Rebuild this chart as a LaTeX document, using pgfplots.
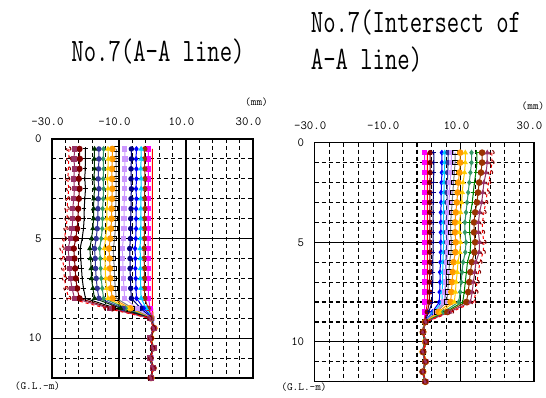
\documentclass[border=0pt]{standalone}
\usepackage{fontspec}
\usepackage{pgfplots}
\usepackage{pgfplotstable}
\pgfplotsset{compat=1.18}

\definecolor{cRed}{HTML}{FF0000}
\definecolor{cMag}{HTML}{FF00FF}
\definecolor{cBrn}{HTML}{993300}
\definecolor{cCya}{HTML}{00CCFF}
\definecolor{cBlu}{HTML}{0000FF}
\definecolor{cNav}{HTML}{000080}
\definecolor{cLav}{HTML}{CC99FF}
\definecolor{cGry}{HTML}{808080}
\definecolor{cOra}{HTML}{FF9900}
\definecolor{cGld}{HTML}{FFCC00}
\definecolor{cTea}{HTML}{339966}
\definecolor{cSla}{HTML}{333399}
\definecolor{cDgr}{HTML}{003300}
\definecolor{cBlk}{HTML}{000000}
\definecolor{cDrd}{HTML}{800000}
\definecolor{cPur}{HTML}{993366}
\definecolor{cGrn}{HTML}{008000}

% Left chart: No.7 (A-A line), displacement (mm) vs depth (m)
\pgfplotstableread{
d s1 s2 s3 s4 s5 s6 s7 s8 s9 s10 s11 s12 s13 s14 s15 s16 s17
0.5 0 -1.2 -2.3 -3.4 -4.8 -6.3 -8.3 -10.8 -12.0 -13.3 -14.6 -16.0 -17.3 -20.0 -21.8 -23.3 -25.0
1.0 0 -1.2 -2.4 -3.4 -4.9 -6.3 -8.2 -10.9 -12.0 -13.2 -14.7 -16.0 -17.4 -20.0 -21.7 -23.4 -25.0
1.5 0 -1.2 -2.3 -3.5 -4.8 -6.4 -8.3 -10.8 -12.1 -13.3 -14.6 -16.1 -17.3 -20.1 -21.8 -23.3 -25.1
2.0 0 -1.2 -2.3 -3.4 -4.8 -6.4 -8.4 -10.9 -12.1 -13.4 -14.7 -16.2 -17.5 -20.2 -22.0 -23.5 -25.3
2.5 0 -1.3 -2.3 -3.4 -4.9 -6.3 -8.3 -10.8 -12.0 -13.3 -14.6 -16.0 -17.3 -20.0 -21.8 -23.3 -25.0
3.0 0 -1.2 -2.4 -3.5 -4.8 -6.4 -8.4 -10.9 -12.1 -13.4 -14.7 -16.2 -17.5 -20.2 -22.0 -23.5 -25.3
3.5 0 -1.2 -2.3 -3.5 -4.9 -6.4 -8.5 -11.0 -12.2 -13.6 -14.9 -16.3 -17.6 -20.4 -22.2 -23.8 -25.5
4.0 0 -1.3 -2.4 -3.5 -4.9 -6.5 -8.5 -11.0 -12.2 -13.6 -14.9 -16.3 -17.6 -20.4 -22.2 -23.8 -25.5
4.5 0 -1.2 -2.4 -3.5 -4.9 -6.5 -8.5 -11.1 -12.4 -13.7 -15.0 -16.5 -17.8 -20.6 -22.5 -24.0 -25.8
5.0 0 -1.3 -2.4 -3.6 -5.0 -6.6 -8.7 -11.3 -12.6 -14.0 -15.3 -16.8 -18.2 -21.0 -22.9 -24.5 -26.3
5.5 0 -1.3 -2.5 -3.7 -5.2 -6.8 -9.0 -11.7 -13.0 -14.4 -15.8 -17.3 -18.7 -21.6 -23.5 -25.2 -27.0
6.0 0 -1.3 -2.5 -3.6 -5.1 -6.7 -8.9 -11.6 -12.8 -14.2 -15.6 -17.1 -18.5 -21.4 -23.3 -24.9 -26.8
6.5 0 -1.3 -2.4 -3.6 -5.1 -6.7 -8.8 -11.4 -12.7 -14.1 -15.5 -17.0 -18.3 -21.2 -23.1 -24.7 -26.5
7.0 0 -1.3 -2.4 -3.6 -5.0 -6.6 -8.7 -11.3 -12.6 -14.0 -15.3 -16.8 -18.2 -21.0 -22.9 -24.5 -26.3
7.5 0 -1.2 -2.4 -3.5 -4.9 -6.5 -8.5 -11.1 -12.4 -13.7 -15.0 -16.5 -17.8 -20.6 -22.5 -24.0 -25.8
8.0 0 -1.2 -2.3 -3.4 -4.8 -6.3 -8.3 -10.8 -12.0 -13.3 -14.6 -16.0 -17.3 -20.0 -21.8 -23.3 -25.0
8.5 0 -0.7 -1.3 -1.9 -2.6 -3.5 -4.6 -5.9 -6.6 -7.3 -8.0 -8.8 -9.5 -11.0 -12.0 -12.8 -13.8
9.0 0.2 0.0 -0.1 -0.1 -0.1 -0.2 -0.2 -0.3 -0.4 -0.4 -0.4 -0.5 -0.5 -0.6 -0.7 -0.7 -0.8
9.5 0.4 0.5 0.3 0.6 0.2 0.4 0.5 0.3 0.6 0.4 0.2 0.5 0.3 0.6 0.4 0.5 0.3
10.0 -0.5 -0.7 -0.4 -0.8 -0.6 -0.5 -0.9 -0.6 -0.4 -0.7 -0.5 -0.8 -0.6 -0.7 -0.5 -0.9 -0.6
10.5 0.2 0.3 0.1 0.4 0.2 0.0 0.3 0.2 0.4 0.1 0.3 0.2 0.0 0.3 0.2 0.4 0.1
11.0 -0.6 -0.8 -0.5 -0.7 -0.9 -0.6 -0.5 -0.8 -0.7 -0.6 -0.9 -0.5 -0.7 -0.8 -0.6 -0.7 -0.5
11.5 0.1 0.3 0.2 0.0 0.4 0.2 0.1 0.3 0.2 0.4 0.1 0.3 0.2 0.0 0.3 0.1 0.2
12.0 -0.4 -0.6 -0.5 -0.3 -0.7 -0.4 -0.6 -0.5 -0.3 -0.6 -0.4 -0.7 -0.5 -0.4 -0.6 -0.3 -0.5
}\lefttab

% Right chart: No.7 (Intersect of A-A line)
\pgfplotstableread{
d r1 r2 r3 r4 r5 r6 r7 r8 r9 r10 r11 r12 r13 r14 r15 r16
0.5 0.1 0.8 1.6 2.6 4.8 5.6 6.5 7.4 8.4 9.8 11.2 12.9 14.4 15.8 17.2 18.5
1.0 0.1 0.8 1.6 2.6 4.8 5.6 6.5 7.4 8.4 9.8 11.2 12.9 14.4 15.8 17.2 18.5
1.5 0.1 0.8 1.6 2.6 4.8 5.5 6.4 7.3 8.2 9.6 11.0 12.6 14.1 15.5 16.9 18.1
2.0 0.1 0.8 1.5 2.5 4.7 5.4 6.3 7.0 8.0 9.3 10.6 12.3 13.7 15.0 16.3 17.6
2.5 0.1 0.8 1.5 2.5 4.6 5.4 6.2 6.9 7.8 9.1 10.4 12.0 13.4 14.7 16.0 17.2
3.0 0.1 0.8 1.5 2.4 4.6 5.3 6.2 6.7 7.6 8.9 10.2 11.7 13.1 14.4 15.7 16.8
3.5 0.1 0.8 1.5 2.4 4.5 5.3 6.1 6.5 7.4 8.6 9.9 11.4 12.7 13.9 15.1 16.3
4.0 0.1 0.8 1.5 2.4 4.5 5.2 6.0 6.4 7.2 8.4 9.6 11.1 12.4 13.6 14.8 15.9
4.5 0.1 0.8 1.5 2.4 4.5 5.2 6.0 6.4 7.2 8.4 9.6 11.1 12.4 13.6 14.8 15.9
5.0 0.1 0.8 1.5 2.4 4.5 5.3 6.1 6.5 7.4 8.6 9.9 11.4 12.7 13.9 15.1 16.3
5.5 0.1 0.8 1.5 2.4 4.5 5.2 6.0 6.4 7.3 8.5 9.7 11.2 12.5 13.7 15.0 16.1
6.0 0.1 0.8 1.5 2.3 4.4 5.1 5.9 6.1 6.9 8.0 9.2 10.6 11.8 13.0 14.1 15.2
6.5 0.1 0.8 1.5 2.3 4.3 5.0 5.9 5.9 6.7 7.8 9.0 10.3 11.5 12.6 13.8 14.8
7.0 0.1 0.8 1.4 2.3 4.3 5.0 5.8 5.8 6.6 7.6 8.7 10.1 11.2 12.3 13.4 14.4
7.5 0.1 0.8 1.4 2.2 4.2 4.9 5.7 5.6 6.4 7.4 8.5 9.8 10.9 12.0 13.1 14.1
8.0 0.1 0.8 1.4 2.2 4.1 4.8 5.6 5.4 6.1 7.2 8.2 9.4 10.5 11.5 12.6 13.5
8.5 0.1 0.5 0.8 1.2 2.2 2.5 2.9 3.0 3.4 3.9 4.5 5.2 5.8 6.3 6.9 7.4
9.0 0.0 0.0 0.0 0.1 0.1 0.1 0.1 0.1 0.2 0.2 0.2 0.3 0.3 0.3 0.3 0.4
9.5 -0.3 -0.5 -0.2 -0.4 -0.6 -0.3 -0.5 -0.2 -0.4 -0.3 -0.6 -0.2 -0.5 -0.4 -0.3 -0.5
10.0 0.3 0.4 0.2 0.5 0.3 0.1 0.4 0.3 0.5 0.2 0.4 0.3 0.1 0.4 0.2 0.5
10.5 -0.4 -0.2 -0.5 -0.3 -0.4 -0.6 -0.2 -0.4 -0.3 -0.5 -0.2 -0.4 -0.6 -0.3 -0.5 -0.4
11.0 0.2 0.4 0.3 0.1 0.5 0.2 0.3 0.4 0.1 0.3 0.5 0.2 0.4 0.3 0.2 0.4
11.5 -0.3 -0.5 -0.4 -0.2 -0.5 -0.3 -0.6 -0.2 -0.4 -0.3 -0.5 -0.4 -0.2 -0.5 -0.3 -0.4
12.0 0.1 0.3 0.2 0.0 0.3 0.1 0.2 0.4 0.1 0.2 0.3 0.0 0.2 0.3 0.1 0.2
}\righttab

\pgfplotsset{
  inclin/.style={
    scale only axis,
    xmin=-30, xmax=30, ymin=0, ymax=12,
    y dir=reverse,
    xticklabel pos=upper,
    xtick={-30,-10,10,30},
    xticklabels={-30.0,-10.0,10.0,30.0},
    ytick={0,5,10},
    yticklabels={0,5,10},
    minor xtick={-26,-22,-18,-14,-6,-2,2,6,14,18,22,26},
    minor ytick={1,2,3,4,6,7,8,9,11},
    grid=both,
    major grid style={black, line width=1.1pt},
    minor grid style={black, line width=1.1pt, dash pattern=on 4pt off 3pt},
    major tick length=0pt, minor tick length=0pt,
    axis line style={black, line width=1.3pt},
    tick label style={font=\fontsize{12.5}{12.5}\selectfont\ttfamily},
    xticklabel style={xshift=-4.5pt, yshift=10pt},
    yticklabel style={xshift=-7pt},
    every axis plot/.append style={line width=1pt, mark size=2.2pt, mark options={solid}},
  }
}

\begin{document}
\begin{tikzpicture}[x=1pt,y=1pt]
\useasboundingbox (0,0) rectangle (546,397);

\begin{axis}[inclin, at={(52pt,19pt)}, anchor=south west, width=201pt, height=239pt]
\addplot[cRed, mark=none] table[x=s1, y=d] {\lefttab};
\addplot[cMag, mark=square*] table[x=s2, y=d] {\lefttab};
\addplot[cBrn, mark=*] table[x=s3, y=d] {\lefttab};
\addplot[cCya, mark=triangle*] table[x=s4, y=d] {\lefttab};
\addplot[cBlu, mark=diamond*] table[x=s5, y=d] {\lefttab};
\addplot[cNav, mark=*] table[x=s6, y=d] {\lefttab};
\addplot[cLav, mark=square*] table[x=s7, y=d] {\lefttab};
\addplot[cGry, mark=square, mark options={black}] table[x=s8, y=d] {\lefttab};
\addplot[cOra, mark=*, mark size=2.8pt] table[x=s9, y=d] {\lefttab};
\addplot[cGld, mark=triangle*] table[x=s10, y=d] {\lefttab};
\addplot[cTea, mark=diamond*] table[x=s11, y=d] {\lefttab};
\addplot[cSla, mark=*] table[x=s12, y=d] {\lefttab};
\addplot[cDgr, mark=triangle*] table[x=s13, y=d] {\lefttab};
\addplot[cBlk, mark=+] table[x=s14, y=d] {\lefttab};
\addplot[cDrd, mark=*, mark size=2.7pt] table[x=s15, y=d] {\lefttab};
\addplot[cPur, mark=square*] table[x=s16, y=d] {\lefttab};
\addplot[cRed, dashed, mark=o, mark options={fill=white, draw=cDrd}] table[x=s17, y=d] {\lefttab};
\end{axis}

\begin{axis}[inclin, at={(314.7pt,15.3pt)}, anchor=south west, width=219.3pt, height=239pt]
\addplot[cMag, mark=square*] table[x=r1, y=d] {\righttab};
\addplot[cRed, mark=none] table[x=r2, y=d] {\righttab};
\addplot[cDrd, mark=*] table[x=r3, y=d] {\righttab};
\addplot[cNav, mark=+] table[x=r4, y=d] {\righttab};
\addplot[cBlu, mark=diamond*] table[x=r5, y=d] {\righttab};
\addplot[cCya, mark=triangle*] table[x=r6, y=d] {\righttab};
\addplot[cSla, mark=*] table[x=r7, y=d] {\righttab};
\addplot[cLav, mark=square*] table[x=r8, y=d] {\righttab};
\addplot[cGry, mark=square, mark options={black}] table[x=r9, y=d] {\righttab};
\addplot[cOra, mark=*, mark size=2.8pt] table[x=r10, y=d] {\righttab};
\addplot[cGld, mark=triangle*] table[x=r11, y=d] {\righttab};
\addplot[cTea, mark=diamond*] table[x=r12, y=d] {\righttab};
\addplot[cGrn, mark=+] table[x=r13, y=d] {\righttab};
\addplot[cBrn, mark=*, mark size=2.8pt] table[x=r14, y=d] {\righttab};
\addplot[cPur, mark=triangle*] table[x=r15, y=d] {\righttab};
\addplot[cRed, dashed, mark=o, mark options={fill=white, draw=cDrd}] table[x=r16, y=d] {\righttab};
\end{axis}

% titles
\node[anchor=base, inner sep=0pt] at (158,335)
  {\scalebox{1}[1.36]{\fontsize{24}{24}\selectfont\ttfamily No.7(A-A line)}};
\node[anchor=base west, inner sep=0pt] at (310.7,364)
  {\scalebox{1}[1.36]{\fontsize{24}{24}\selectfont\ttfamily No.7(Intersect of}};
\node[anchor=base west, inner sep=0pt] at (310.7,327)
  {\scalebox{1}[1.36]{\fontsize{24}{24}\selectfont\ttfamily A-A line)}};

% unit labels
\node[inner sep=0pt, font=\fontsize{11}{11}\selectfont\ttfamily] at (256.5,294.5) {(mm)};
\node[inner sep=0pt, font=\fontsize{11}{11}\selectfont\ttfamily] at (533,291) {(mm)};
\node[inner sep=0pt, font=\fontsize{11}{11}\selectfont\ttfamily] at (37.5,11) {(G.L.-m)};
\node[inner sep=0pt, font=\fontsize{11}{11}\selectfont\ttfamily] at (304,9.5) {(G.L.-m)};
\end{tikzpicture}
\end{document}
